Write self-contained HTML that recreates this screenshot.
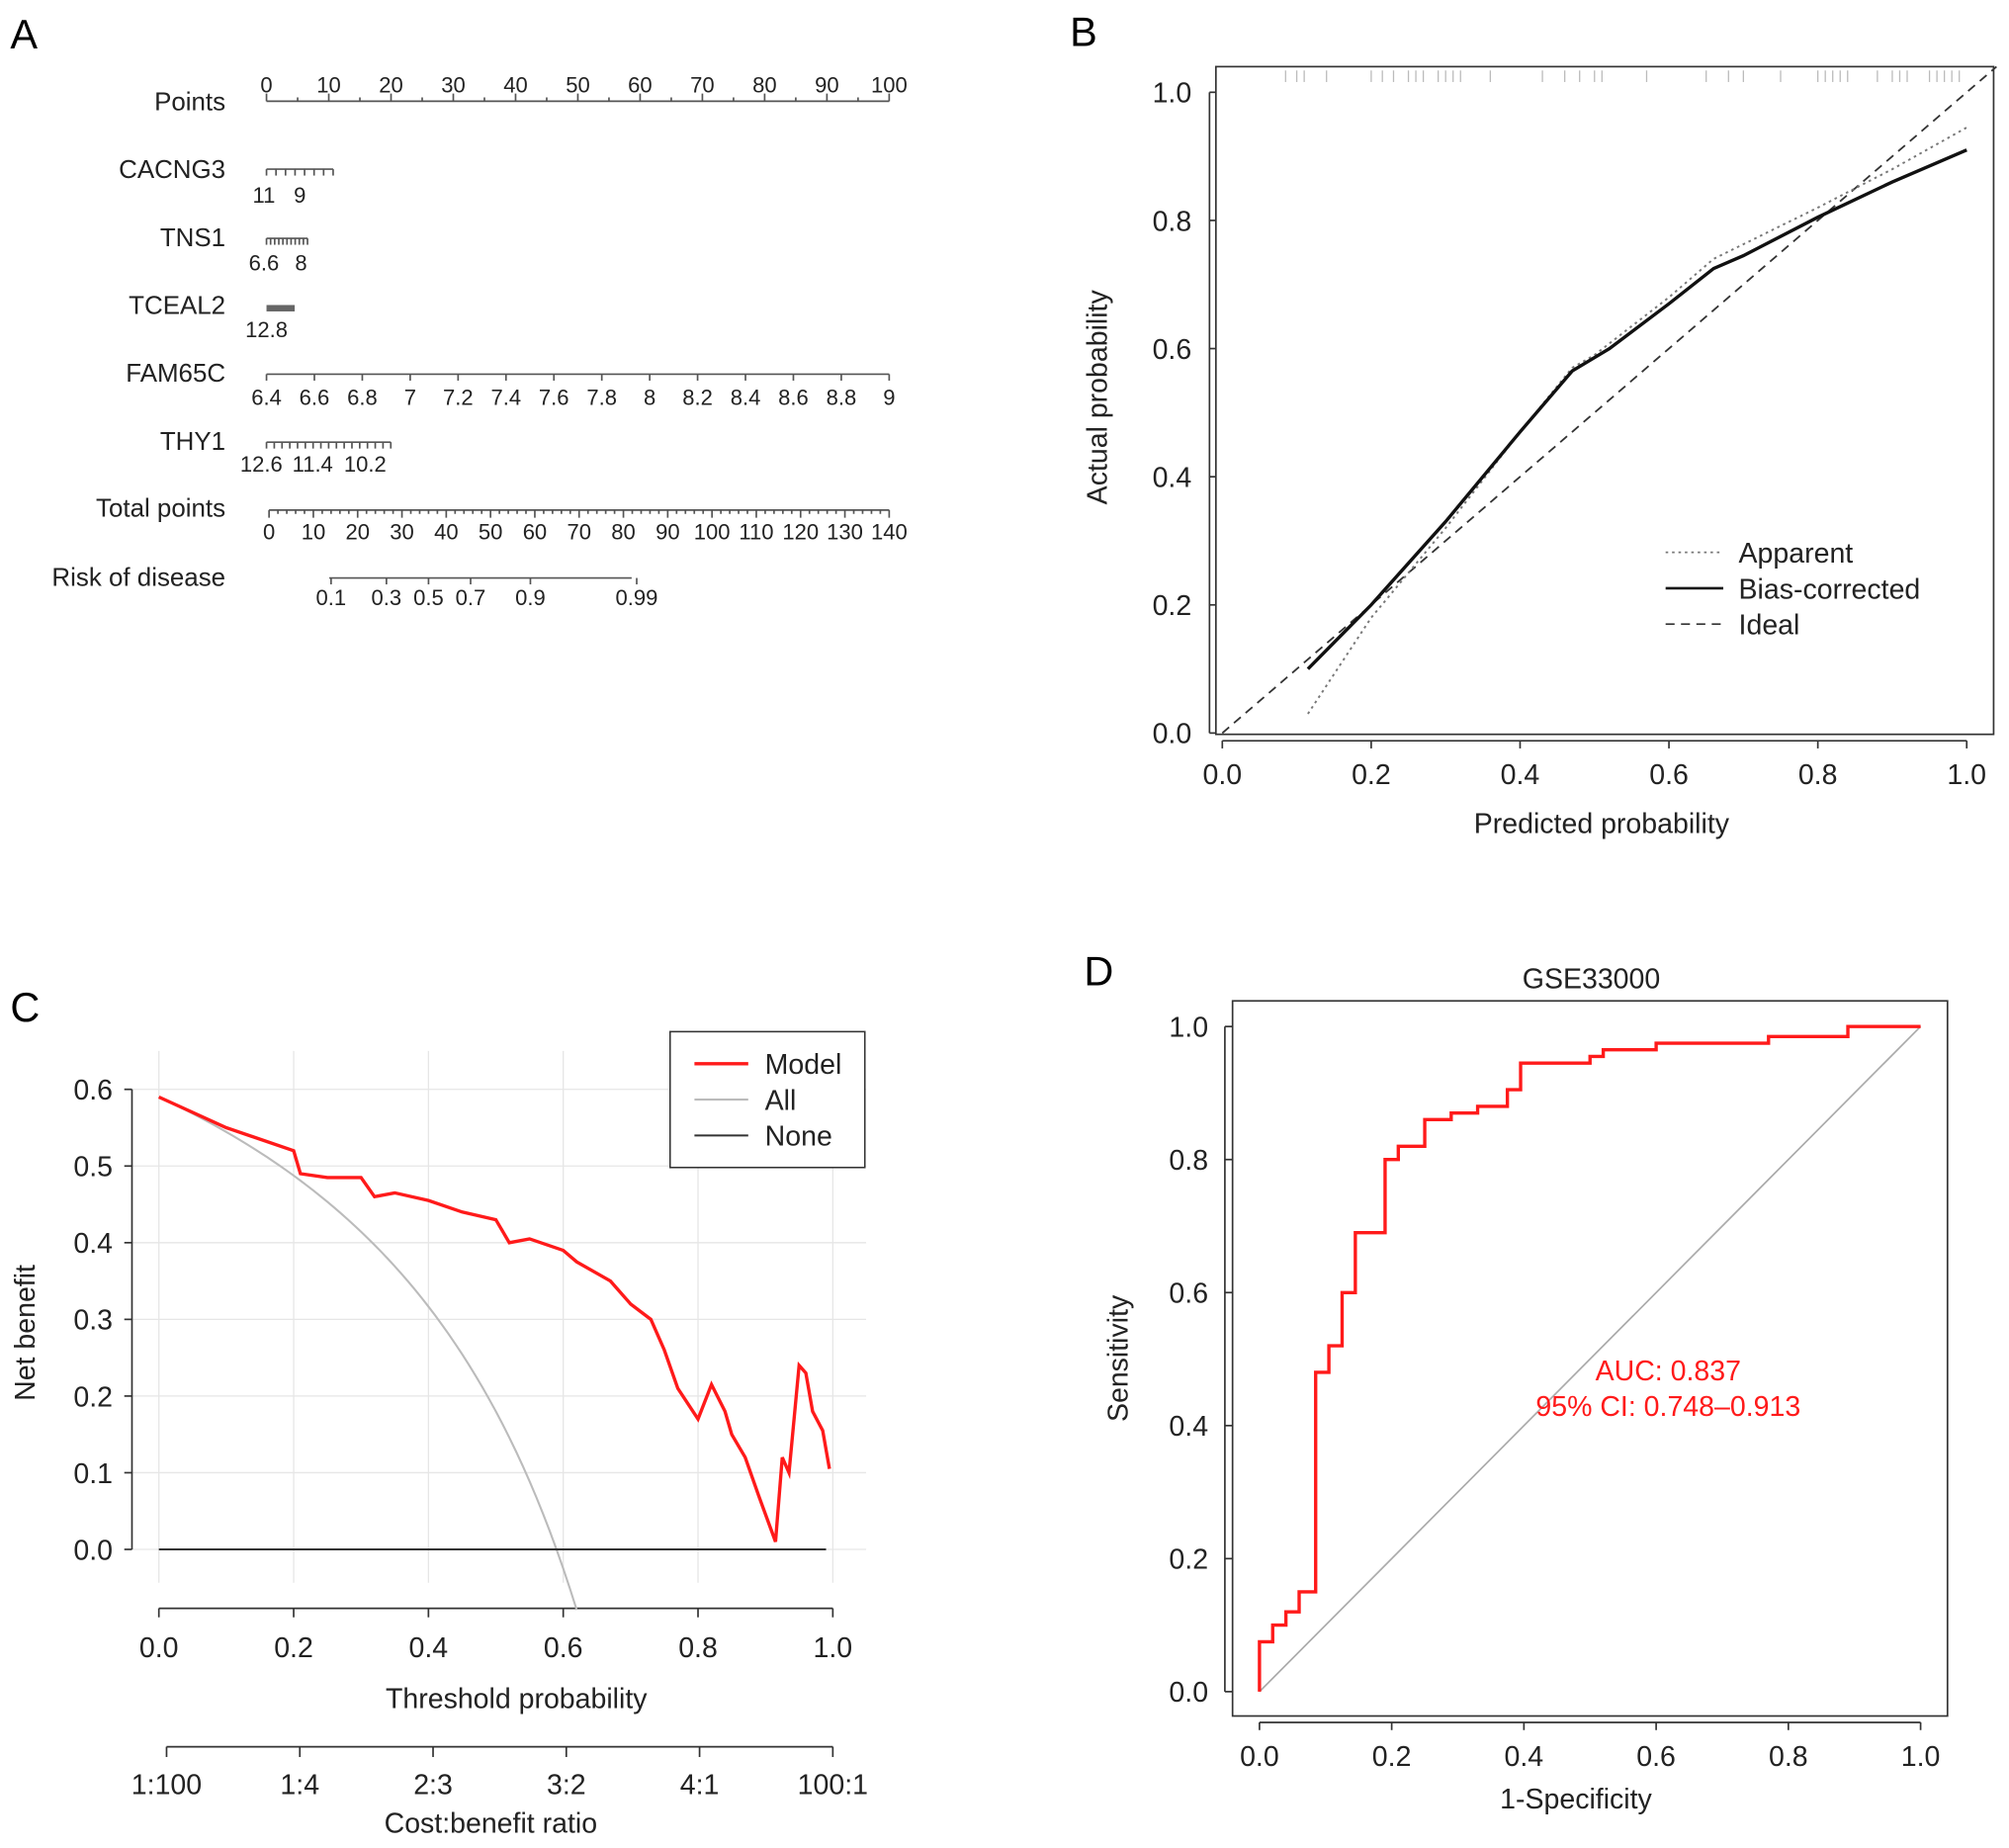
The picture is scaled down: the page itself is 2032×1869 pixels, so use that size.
<!DOCTYPE html>
<html><head><meta charset="utf-8"><style>
html,body{margin:0;padding:0;background:#fff;}
svg{display:block;font-family:"Liberation Sans",Arial,sans-serif;}
</style></head><body>
<svg id="fig" width="2032" height="1869" viewBox="0 0 1568 1442" preserveAspectRatio="none" xmlns="http://www.w3.org/2000/svg">
<text x="8" y="38" font-size="32">A</text>
<text x="835" y="36" font-size="32">B</text>
<text x="8" y="797" font-size="32">C</text>
<text x="846" y="769" font-size="32">D</text>
<g id="A"></g>
<g id="B"></g>
<g id="C"></g>
<g id="D"></g>
</svg>
<script>
// ---- data ----
const pointsTicks=[0,10,20,30,40,50,60,70,80,90,100];
const fam65cTicks=["6.4","6.6","6.8","7","7.2","7.4","7.6","7.8","8","8.2","8.4","8.6","8.8","9"];
const totalTicks=[0,10,20,30,40,50,60,70,80,90,100,110,120,130,140];
const riskLabels=["0.1","0.3","0.5","0.7","0.9","0.99"];
const riskPoints=[14,26.5,36,45.5,59,83];
const calPred=[0.115,0.2,0.3,0.4,0.47,0.52,0.6,0.66,0.7,0.8,0.9,1.0];
const calBias=[0.10,0.20,0.33,0.47,0.565,0.60,0.67,0.725,0.745,0.805,0.86,0.91];
const appPred=[0.115,0.2,0.3,0.4,0.47,0.5,0.6,0.66,0.8,0.9,1.0];
const appActual=[0.03,0.18,0.32,0.47,0.57,0.59,0.68,0.74,0.82,0.88,0.945];
const rug=[0.085,0.1,0.11,0.14,0.2,0.215,0.23,0.25,0.26,0.27,0.29,0.3,0.31,0.32,0.36,0.43,0.46,0.48,0.5,0.51,0.57,0.65,0.68,0.7,0.75,0.8,0.81,0.82,0.83,0.84,0.88,0.9,0.91,0.92,0.95,0.96,0.97,0.98,0.99];
const threshold=[0,0.05,0.1,0.15,0.2,0.21,0.25,0.3,0.32,0.35,0.4,0.45,0.5,0.52,0.55,0.6,0.62,0.65,0.67,0.7,0.73,0.75,0.77,0.8,0.82,0.84,0.85,0.87,0.89,0.915,0.925,0.935,0.95,0.96,0.97,0.985,0.995];
const modelNB=[0.59,0.57,0.55,0.535,0.52,0.49,0.485,0.485,0.46,0.465,0.455,0.44,0.43,0.40,0.405,0.39,0.375,0.36,0.35,0.32,0.30,0.26,0.21,0.17,0.215,0.18,0.15,0.12,0.07,0.01,0.12,0.10,0.24,0.23,0.18,0.155,0.105];
const prevalence=0.59;
const yTicksC=[0,0.1,0.2,0.3,0.4,0.5,0.6];
const xTicks=[0,0.2,0.4,0.6,0.8,1.0];
const costLabels=["1:100","1:4","2:3","3:2","4:1","100:1"];
const fpr=[0,0,0.02,0.02,0.04,0.04,0.06,0.06,0.085,0.085,0.105,0.105,0.125,0.125,0.145,0.145,0.19,0.19,0.21,0.21,0.25,0.25,0.29,0.29,0.33,0.33,0.375,0.375,0.395,0.395,0.5,0.5,0.52,0.52,0.6,0.6,0.77,0.77,0.89,0.89,1];
const tpr=[0,0.075,0.075,0.1,0.1,0.12,0.12,0.15,0.15,0.48,0.48,0.52,0.52,0.6,0.6,0.69,0.69,0.8,0.8,0.82,0.82,0.86,0.86,0.87,0.87,0.88,0.88,0.905,0.905,0.945,0.945,0.955,0.955,0.965,0.965,0.975,0.975,0.985,0.985,1,1];

const NS="http://www.w3.org/2000/svg";
function mk(parent,tag,attrs,text){const e=document.createElementNS(NS,tag);for(const k in attrs)e.setAttribute(k,attrs[k]);if(text!==undefined)e.textContent=text;parent.appendChild(e);return e;}
function line(p,x1,y1,x2,y2,st){return mk(p,'line',Object.assign({x1,y1,x2,y2,stroke:'#333','stroke-width':1.3},st||{}));}
function txt(p,x,y,s,size,anchor,fill){return mk(p,'text',{x,y,'font-size':size,'text-anchor':anchor||'middle',fill:fill||'#222'},s);}
function poly(p,xs,ys,sx,sy,st){return mk(p,'polyline',Object.assign({points:xs.map((v,i)=>sx(v)+','+sy(ys[i])).join(' '),fill:'none'},st));}

// ---- Panel A ----
const A=document.getElementById('A');
const px=v=>208+v*4.86;
function rowLabel(s,y){const t=txt(A,176,y,s,20,'end');}
rowLabel('Points',86);
line(A,px(0),79,px(100),79,{stroke:'#555'});
for(let v=0;v<=100;v+=5)line(A,px(v),79,px(v),v%10?76:73,{stroke:'#555'});
pointsTicks.forEach(v=>txt(A,px(v),72,String(v),17));
rowLabel('CACNG3',139);
line(A,208,132,260,132,{stroke:'#555'});for(let i=0;i<=7;i++)line(A,208+i*52/7,132,208+i*52/7,137,{stroke:'#555'});
txt(A,206,158,'11',17);txt(A,234,158,'9',17);
rowLabel('TNS1',192);
line(A,208,186,240,186,{stroke:'#555'});for(let i=0;i<=10;i++)line(A,208+i*3.2,186,208+i*3.2,191,{stroke:'#555'});
txt(A,206,211,'6.6',17);txt(A,235,211,'8',17);
rowLabel('TCEAL2',245);
mk(A,'rect',{x:208,y:238,width:22,height:5,fill:'#666'});
txt(A,208,263,'12.8',17);
rowLabel('FAM65C',298);
line(A,208,292,694,292,{stroke:'#555'});
fam65cTicks.forEach((s,i)=>{const x=208+i*486/13;line(A,x,292,x,297,{stroke:'#555'});txt(A,x,316,s,17);});
rowLabel('THY1',351);
line(A,208,345,305,345,{stroke:'#555'});for(let i=0;i<=16;i++)line(A,208+i*97/16,345,208+i*97/16,350,{stroke:'#555'});
txt(A,204,368,'12.6',17);txt(A,244,368,'11.4',17);txt(A,285,368,'10.2',17);
rowLabel('Total points',403);
const tx=v=>210+v*484/140;
line(A,tx(0),398,tx(140),398,{stroke:'#555'});
for(let v=0;v<=140;v+=2)line(A,tx(v),398,tx(v),v%10?401:404,{stroke:'#555'});
totalTicks.forEach(v=>txt(A,tx(v),421,String(v),17));
rowLabel('Risk of disease',457);
line(A,257,451,493,451,{stroke:'#555'});
riskPoints.forEach((v,i)=>{const x=tx(v);line(A,x,451,x,456,{stroke:'#555'});txt(A,x,472,riskLabels[i],17);});

// ---- Panel B ----
const B=document.getElementById('B');
const bx=v=>954+v*581, by=v=>572-v*500;
mk(B,'rect',{x:949,y:52,width:607,height:521,fill:'none',stroke:'#333','stroke-width':1.3});
rug.forEach(v=>{const r=line(B,bx(v),55,bx(v),64,{stroke:'#bbb','stroke-width':1});});
[0,0.2,0.4,0.6,0.8,1.0].forEach(v=>{line(B,944,by(v),949,by(v));txt(B,930,by(v)+8,v.toFixed(1),22,'end');});
line(B,944,by(0),944,by(1));
line(B,bx(0),578,bx(1),578);
xTicks.forEach(v=>{line(B,bx(v),578,bx(v),584);txt(B,bx(v),612,v.toFixed(1),22);});
txt(B,1250,650,'Predicted probability',22);
const yt=txt(B,0,0,'Actual probability',22);yt.setAttribute('transform','translate(864,310) rotate(-90)');
line(B,bx(0),by(0),bx(1.04),by(1.04),{'stroke-dasharray':'7,5','stroke-width':1.4});
poly(B,appPred,appActual,bx,by,{stroke:'#777','stroke-width':1.5,'stroke-dasharray':'2,3'});
poly(B,calPred,calBias,bx,by,{stroke:'#111','stroke-width':2.6});
line(B,1300,431,1345,431,{stroke:'#777','stroke-dasharray':'2,3'});txt(B,1357,439,'Apparent',22,'start');
line(B,1300,459,1345,459,{stroke:'#111','stroke-width':2});txt(B,1357,467,'Bias-corrected',22,'start');
line(B,1300,487,1345,487,{'stroke-dasharray':'7,5'});txt(B,1357,495,'Ideal',22,'start');

// ---- Panel C ----
const C=document.getElementById('C');
const cx=v=>124+v*526, cy=v=>1209-v*598.3;
for(let v=0;v<=1.0001;v+=0.2)line(C,cx(v),820,cx(v),1235,{stroke:'#e6e6e6','stroke-width':1});
for(let v=0;v<=0.6001;v+=0.1)line(C,103,cy(v),676,cy(v),{stroke:'#e6e6e6','stroke-width':1});
line(C,103,cy(0),103,cy(0.6));
yTicksC.forEach(v=>{line(C,97,cy(v),103,cy(v));txt(C,88,cy(v)+8,v.toFixed(1),22,'end');});
line(C,cx(0),1255,cx(1),1255);
xTicks.forEach(v=>{line(C,cx(v),1255,cx(v),1262);txt(C,cx(v),1293,v.toFixed(1),22);});
txt(C,403,1333,'Threshold probability',22);
const ct=txt(C,0,0,'Net benefit',22);ct.setAttribute('transform','translate(27,1040) rotate(-90)');
line(C,130,1363,650,1363);
costLabels.forEach((s,i)=>{const x=130+i*104;line(C,x,1363,x,1371);txt(C,x,1400,s,22);});
txt(C,383,1430,'Cost:benefit ratio',22);
const allT=[],allNB=[];for(let t=0;t<=0.622;t+=0.01){allT.push(t);allNB.push(prevalence-(1-prevalence)*t/(1-t));}
poly(C,allT,allNB,cx,cy,{stroke:'#bbb','stroke-width':1.6});
line(C,cx(0),cy(0),cx(0.99),cy(0),{stroke:'#333','stroke-width':1.6});
poly(C,threshold,modelNB,cx,cy,{stroke:'#ff1a1a','stroke-width':2.6});
mk(C,'rect',{x:523,y:805,width:152,height:106,fill:'#fff',stroke:'#333','stroke-width':1.2});
line(C,542,830,584,830,{stroke:'#ff1a1a','stroke-width':2.6});txt(C,597,838,'Model',22,'start');
line(C,542,858,584,858,{stroke:'#bbb','stroke-width':1.6});txt(C,597,866,'All',22,'start');
line(C,542,886,584,886,{stroke:'#333','stroke-width':1.6});txt(C,597,894,'None',22,'start');

// ---- Panel D ----
const D=document.getElementById('D');
const dx=v=>983+v*516, dy=v=>1320-v*519;
mk(D,'rect',{x:962,y:781,width:558,height:558,fill:'none',stroke:'#333','stroke-width':1.3});
txt(D,1242,771,'GSE33000',22);
line(D,dx(0),dy(0),dx(1),dy(1),{stroke:'#aaa','stroke-width':1.3});
xTicks.forEach(v=>{line(D,956,dy(v),962,dy(v));txt(D,943,dy(v)+8,v.toFixed(1),22,'end');});
line(D,956,dy(0),956,dy(1));
line(D,dx(0),1344,dx(1),1344);
xTicks.forEach(v=>{line(D,dx(v),1344,dx(v),1350);txt(D,dx(v),1378,v.toFixed(1),22);});
txt(D,1230,1411,'1-Specificity',22);
const dt=txt(D,0,0,'Sensitivity',22);dt.setAttribute('transform','translate(880,1060) rotate(-90)');
poly(D,fpr,tpr,dx,dy,{stroke:'#ff1a1a','stroke-width':2.6});
txt(D,1302,1077,'AUC: 0.837',22,'middle','#ff1a1a');
txt(D,1302,1105,'95% CI: 0.748\u20130.913',22,'middle','#ff1a1a');
</script>
</body></html>
